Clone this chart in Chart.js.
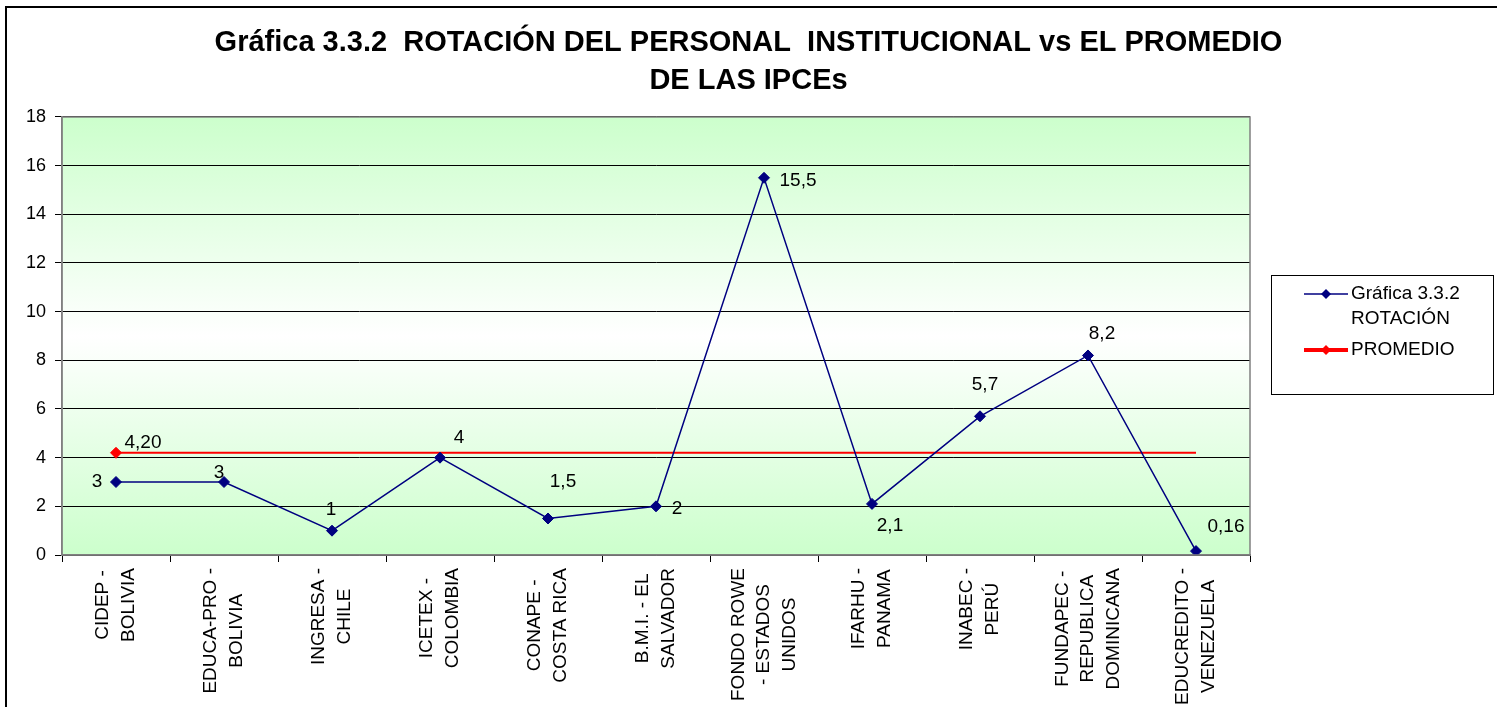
<!DOCTYPE html>
<html>
<head>
<meta charset="utf-8">
<script src="https://cdn.jsdelivr.net/npm/chart.js@4.4.1/dist/chart.umd.min.js"></script>
<style>
  html, body { margin: 0; padding: 0; background: #fff; overflow: hidden; }
  #wrap { position: relative; width: 1497px; height: 707px; }
  canvas { position: absolute; left: 0; top: 0; }
</style>
</head>
<body>
<div id="wrap"><canvas id="c" width="1497" height="707"></canvas></div>
<script>
// ---------- data ----------
const categories = [
  ["CIDEP -", "BOLIVIA"],
  ["EDUCA-PRO -", "BOLIVIA"],
  ["INGRESA -", "CHILE"],
  ["ICETEX -", "COLOMBIA"],
  ["CONAPE -", "COSTA RICA"],
  ["B.M.I. - EL", "SALVADOR"],
  ["FONDO ROWE", "- ESTADOS", "UNIDOS"],
  ["IFARHU -", "PANAMA"],
  ["INABEC -", "PERÚ"],
  ["FUNDAPEC -", "REPUBLICA", "DOMINICANA"],
  ["EDUCREDITO -", "VENEZUELA"]
];
const rotacion = [3, 3, 1, 4, 1.5, 2, 15.5, 2.1, 5.7, 8.2, 0.16];
const promedio = [4.2, 4.2, 4.2, 4.2, 4.2, 4.2, 4.2, 4.2, 4.2, 4.2, 4.2];
const yMin = 0, yMax = 18, yStep = 2;
const titleLines = ["Gráfica 3.3.2  ROTACIÓN DEL PERSONAL  INSTITUCIONAL vs EL PROMEDIO", "DE LAS IPCEs"];
const seriesNames = ["Gráfica 3.3.2 ROTACIÓN", "PROMEDIO"];
const legendLines = [["Gráfica 3.3.2", "ROTACIÓN"], ["PROMEDIO"]];

// ---------- styling helpers ----------
const FONT = "'Liberation Sans', Arial, Helvetica, sans-serif";
// data label placement relative to each point (dx, dy)
const rotLabelOffsets = [[-19,0],[-5,-9],[-1,-21],[19,-20],[15,-37],[21,2],[34,3],[18,22],[5,-32],[14,-22],[30,-24]];
const promLabelOffset = [27,-10];

const fmtComma = v => String(v).replace('.', ',');

const bgPlugin = {
  id: 'bg',
  beforeDraw(chart) {
    const {ctx, chartArea: a} = chart;
    ctx.save();
    ctx.strokeStyle = '#000';
    ctx.lineWidth = 2;
    ctx.strokeRect(6, 7, 3000, 3000);
    const g = ctx.createLinearGradient(0, a.top, 0, a.bottom);
    g.addColorStop(0, '#ccffcc');
    g.addColorStop(0.5, '#ffffff');
    g.addColorStop(1, '#ccffcc');
    ctx.fillStyle = g;
    ctx.fillRect(a.left, a.top, a.right - a.left, a.bottom - a.top);
    ctx.restore();
  },
  afterDraw(chart) {
    const {ctx, chartArea: a} = chart;
    ctx.save();
    ctx.strokeStyle = '#808080';
    ctx.lineWidth = 1.5;
    ctx.strokeRect(a.left, a.top, a.right - a.left, a.bottom - a.top);
    ctx.restore();
  }
};

const xLabelPlugin = {
  id: 'xlabels',
  afterDraw(chart) {
    const {ctx} = chart;
    const xs = chart.scales.x;
    ctx.save();
    ctx.font = '19px ' + FONT;
    ctx.fillStyle = '#000';
    ctx.textAlign = 'center';
    ctx.textBaseline = 'middle';
    const lh = 25.5;
    categories.forEach((lines, i) => {
      const x = xs.getPixelForTick(i);
      const maxW = Math.max(...lines.map(l => ctx.measureText(l).width));
      const yc = xs.top + 13 + maxW / 2;
      lines.forEach((line, j) => {
        const lx = x + (j - (lines.length - 1) / 2) * lh;
        ctx.save();
        ctx.translate(lx, yc);
        ctx.rotate(-Math.PI / 2);
        ctx.fillText(line, 0, 0);
        ctx.restore();
      });
    });
    ctx.restore();
  }
};

const dataLabelPlugin = {
  id: 'dlabels',
  afterDatasetsDraw(chart) {
    const {ctx} = chart;
    ctx.save();
    ctx.font = '19px ' + FONT;
    ctx.fillStyle = '#000';
    ctx.textAlign = 'center';
    ctx.textBaseline = 'middle';
    const m0 = chart.getDatasetMeta(0);
    m0.data.forEach((pt, i) => {
      const o = rotLabelOffsets[i];
      ctx.fillText(fmtComma(rotacion[i]), pt.x + o[0], pt.y + o[1]);
    });
    const m1 = chart.getDatasetMeta(1);
    const p = m1.data[0];
    ctx.fillText(promedio[0].toFixed(2).replace('.', ','), p.x + promLabelOffset[0], p.y + promLabelOffset[1]);
    ctx.restore();
  }
};

const legendPlugin = {
  id: 'customLegend',
  afterDraw(chart) {
    const {ctx, chartArea: a} = chart;
    const bx = a.right + 21, by = 275, bw = 222, bh = 119;
    ctx.save();
    ctx.strokeStyle = '#000';
    ctx.lineWidth = 1;
    ctx.strokeRect(bx + 0.5, by + 0.5, bw, bh);
    ctx.font = '19px ' + FONT;
    ctx.fillStyle = '#000';
    ctx.textBaseline = 'middle';
    ctx.textAlign = 'left';
    const ds = chart.data.datasets;
    const rows = [{y: by + 19, lw: 1.5, ds: ds[0], lines: legendLines[0]},
                  {y: by + 75, lw: 4, ds: ds[1], lines: legendLines[1]}];
    rows.forEach(r => {
      const x0 = bx + 33, x1 = bx + 77, xm = (x0 + x1) / 2;
      ctx.strokeStyle = r.ds.borderColor;
      ctx.lineWidth = r.lw;
      ctx.beginPath(); ctx.moveTo(x0, r.y); ctx.lineTo(x1, r.y); ctx.stroke();
      ctx.fillStyle = r.ds.pointBackgroundColor;
      const s = 5;
      ctx.beginPath();
      ctx.moveTo(xm, r.y - s); ctx.lineTo(xm + s, r.y); ctx.lineTo(xm, r.y + s); ctx.lineTo(xm - s, r.y);
      ctx.closePath(); ctx.fill();
      ctx.fillStyle = '#000';
      r.lines.forEach((t, k) => ctx.fillText(t, x1 + 3, r.y + k * 25));
    });
    ctx.restore();
  }
};

new Chart(document.getElementById('c'), {
  type: 'line',
  data: {
    labels: categories,
    datasets: [
      {
        label: seriesNames[0],
        data: rotacion,
        borderColor: '#000080',
        backgroundColor: '#000080',
        pointBackgroundColor: '#000080',
        pointBorderColor: '#000080',
        borderWidth: 1.5,
        pointStyle: 'rectRot',
        pointRadius: 5.5,
        pointBorderWidth: 1,
        tension: 0,
        order: 0
      },
      {
        label: seriesNames[1],
        data: promedio,
        borderColor: '#ff0000',
        backgroundColor: '#ff0000',
        pointBackgroundColor: '#ff0000',
        pointBorderColor: '#ff0000',
        borderWidth: 2,
        pointStyle: 'rectRot',
        pointRadius: ctx => ctx.dataIndex === 0 ? 5.5 : 0,
        pointBorderWidth: 1,
        tension: 0,
        order: 1
      }
    ]
  },
  options: {
    responsive: false,
    animation: false,
    devicePixelRatio: 1,
    layout: { padding: 0 },
    plugins: {
      legend: { display: false },
      tooltip: { enabled: false },
      title: {
        display: true,
        text: titleLines,
        color: '#000',
        font: { family: FONT, size: 29, weight: 'bold', lineHeight: 1.31 },
        padding: { top: 24, bottom: 17 }
      }
    },
    scales: {
      x: {
        type: 'category',
        offset: true,
        grid: { display: true, drawOnChartArea: false, drawTicks: true, tickLength: 7, offset: true, color: '#000', lineWidth: 1 },
        border: { display: true, color: '#808080', width: 1.5 },
        ticks: { display: false },
        afterFit(scale) { scale.height = 152; }
      },
      y: {
        min: yMin,
        max: yMax,
        ticks: {
          stepSize: yStep,
          color: '#000',
          font: { family: FONT, size: 18 },
          padding: 9
        },
        grid: { color: '#000', lineWidth: 1, drawTicks: true, tickLength: 7 },
        border: { display: true, color: '#808080', width: 1.5 },
        afterFit(scale) { scale.width = 62; }
      },
      legendSpace: {
        position: 'right',
        display: true,
        min: yMin,
        max: yMax,
        ticks: { display: false },
        grid: { display: false, drawTicks: false },
        border: { display: false },
        afterFit(scale) { scale.width = 247; }
      }
    }
  },
  plugins: [bgPlugin, xLabelPlugin, dataLabelPlugin, legendPlugin]
});
</script>
</body>
</html>
